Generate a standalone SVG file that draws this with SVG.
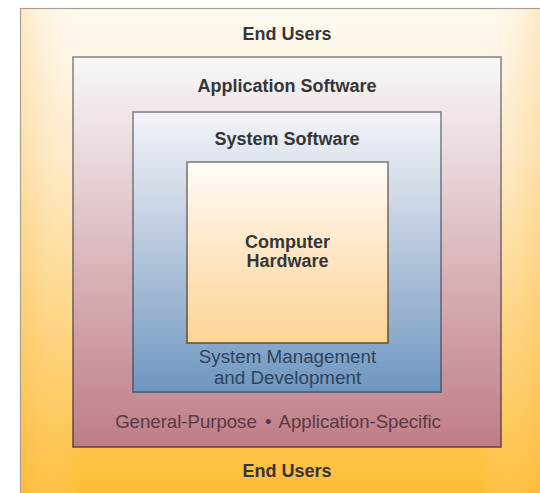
<svg xmlns="http://www.w3.org/2000/svg" width="540" height="493" viewBox="0 0 540 493">
  <defs>
    <linearGradient id="gOuter" x1="0" y1="0" x2="0" y2="1">
      <stop offset="0" stop-color="#fefaf1"/>
      <stop offset="0.3" stop-color="#fdebc8"/>
      <stop offset="0.65" stop-color="#fdd37c"/>
      <stop offset="1" stop-color="#fdbb30"/>
    </linearGradient>
    <linearGradient id="gOuterH" x1="0" y1="0" x2="1" y2="0">
      <stop offset="0" stop-color="#fdb74a" stop-opacity="0.25"/>
      <stop offset="0.12" stop-color="#ffffff" stop-opacity="0"/>
      <stop offset="0.88" stop-color="#ffffff" stop-opacity="0"/>
      <stop offset="1" stop-color="#fdb74a" stop-opacity="0.25"/>
    </linearGradient>
    <linearGradient id="gApp" x1="0" y1="0" x2="0" y2="1">
      <stop offset="0" stop-color="#f8f7f8"/>
      <stop offset="0.25" stop-color="#ead9db"/>
      <stop offset="0.7" stop-color="#d0a0a7"/>
      <stop offset="1" stop-color="#be7d87"/>
    </linearGradient>
    <linearGradient id="gSys" x1="0" y1="0" x2="0" y2="1">
      <stop offset="0" stop-color="#f3f4f8"/>
      <stop offset="0.35" stop-color="#c9d4e4"/>
      <stop offset="0.75" stop-color="#93afcf"/>
      <stop offset="1" stop-color="#6d96bf"/>
    </linearGradient>
    <linearGradient id="gHw" x1="0" y1="0" x2="0" y2="1">
      <stop offset="0" stop-color="#fffcf7"/>
      <stop offset="0.5" stop-color="#fee6c4"/>
      <stop offset="1" stop-color="#fdd496"/>
    </linearGradient>
    <linearGradient id="sApp" x1="0" y1="0" x2="0" y2="1">
      <stop offset="0" stop-color="#8a8a8a"/>
      <stop offset="1" stop-color="#6a4a48"/>
    </linearGradient>
    <linearGradient id="sSys" x1="0" y1="0" x2="0" y2="1">
      <stop offset="0" stop-color="#858588"/>
      <stop offset="1" stop-color="#4c5a70"/>
    </linearGradient>
    <linearGradient id="sHw" x1="0" y1="0" x2="0" y2="1">
      <stop offset="0" stop-color="#7c7c7c"/>
      <stop offset="1" stop-color="#6a5234"/>
    </linearGradient>
  </defs>
  <style>
    .lbl { font-family: "Liberation Sans", Arial, sans-serif; font-size: 18px; text-anchor: middle; }
    .bold { font-weight: bold; fill: #363636; }
    .sys { fill: #2f4460; font-size: 18.8px; }
    .app { fill: #5a3a44; font-size: 18.6px; word-spacing: 3px; }
    .box { stroke-width: 1.6; }
  </style>
  <rect width="540" height="493" fill="#ffffff"/>
  <g id="end-users">
    <rect x="20.5" y="8.5" width="540" height="500" fill="url(#gOuter)" stroke="#a89e8c" stroke-width="1.2"/>
    <rect x="21" y="9" width="519" height="484" fill="url(#gOuterH)"/>
    <text class="lbl bold" x="287" y="40">End Users</text>
    <text class="lbl bold" x="287" y="477">End Users</text>
  </g>
  <g id="application-software">
    <rect class="box" x="73" y="57" width="428" height="390" fill="url(#gApp)" stroke="url(#sApp)"/>
    <text class="lbl bold" x="287" y="92">Application Software</text>
    <text class="lbl app" x="278" y="428">General-Purpose • Application-Specific</text>
  </g>
  <g id="system-software">
    <rect class="box" x="133" y="112" width="308" height="280" fill="url(#gSys)" stroke="url(#sSys)"/>
    <text class="lbl bold" x="287" y="145">System Software</text>
    <text class="lbl sys" x="287.5" y="363">System Management</text>
    <text class="lbl sys" x="287.5" y="384">and Development</text>
  </g>
  <g id="computer-hardware">
    <rect class="box" x="187" y="162" width="201" height="181" fill="url(#gHw)" stroke="url(#sHw)"/>
    <text class="lbl bold" x="287.5" y="248">Computer</text>
    <text class="lbl bold" x="287.5" y="267">Hardware</text>
  </g>
  <g id="connectors"/>
</svg>
